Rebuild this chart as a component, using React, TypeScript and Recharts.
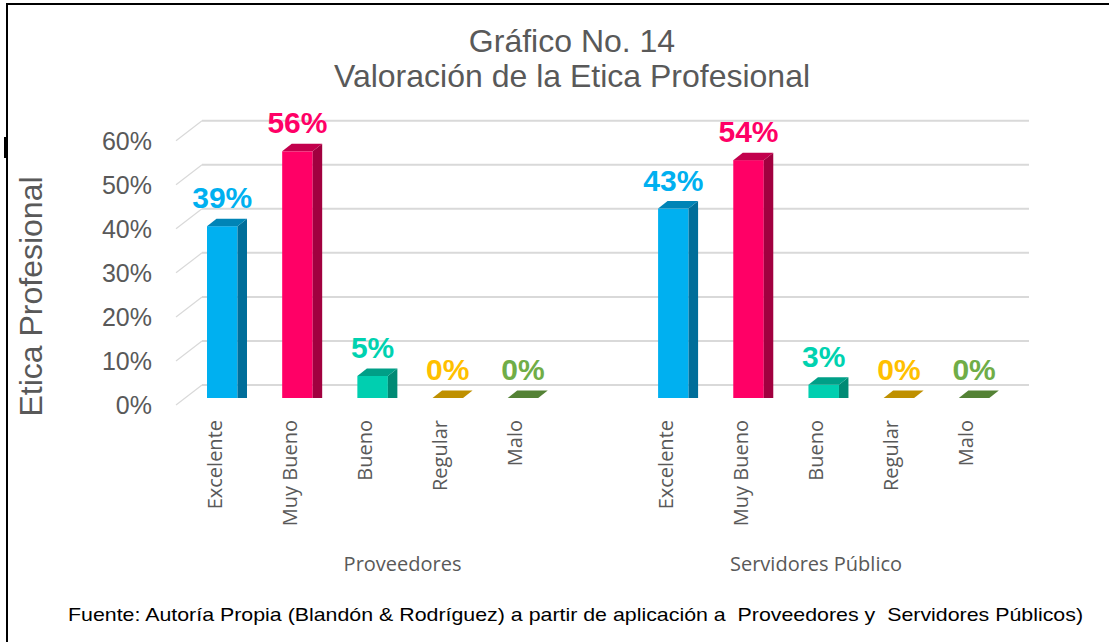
import React from 'react';
import { BarChart, Bar, XAxis, YAxis, CartesianGrid } from 'recharts';

const ratings = ['Excelente', 'Muy Bueno', 'Bueno', 'Regular', 'Malo'];
const groups = ['Proveedores', 'Servidores Público'];
const proveedores = [0.39, 0.56, 0.05, 0, 0];
const servidores = [0.43, 0.54, 0.03, 0, 0];
const yTicks = [0, 0.1, 0.2, 0.3, 0.4, 0.5, 0.6];

const frontColors = ['#00B0F0', '#FF0066', '#00CFB0', '#BF9000', '#548235'];
const sideColors = ['#006E9A', '#A1003F', '#008A74', '#8F6C00', '#3F6128'];
const topColors = ['#0084B6', '#C2004C', '#009F87', '#BF9000', '#548235'];
const labelColors = ['#00B0F0', '#FF0066', '#00D2B0', '#FFC000', '#70AD47'];

type Row = { key: string; name: string; value: number | null; ci: number };

const data: Row[] = [
  ...ratings.map((r, i) => ({ key: `p${i}`, name: r, value: proveedores[i], ci: i })),
  { key: 'gap', name: '', value: null, ci: -1 },
  ...ratings.map((r, i) => ({ key: `s${i}`, name: r, value: servidores[i], ci: i })),
];

// group spans in category slots (first group includes trailing blank slot)
const groupSpans: [number, number][] = [
  [0, ratings.length + 1],
  [ratings.length + 1, data.length],
];

const GREY = '#595959';
const DX = 9.5;
const DY = 7.5;

const renderBox = (props: any) => {
  const { x, y, width, height, payload } = props;
  if (!payload || payload.value == null || payload.ci < 0) return <g />;
  const ci = payload.ci;
  const fw = width - DX;
  const h = Math.max(0, height);
  const label = `${Math.round(payload.value * 100)}%`;
  return (
    <g>
      {h > 0 && <rect x={x} y={y} width={fw} height={h} fill={frontColors[ci]} />}
      {h > 0 && (
        <polygon
          points={`${x + fw},${y} ${x + fw + DX},${y - DY} ${x + fw + DX},${y + h} ${x + fw},${y + h}`}
          fill={sideColors[ci]}
        />
      )}
      <polygon
        points={`${x},${y} ${x + DX},${y - DY} ${x + fw + DX},${y - DY} ${x + fw},${y}`}
        fill={topColors[ci]}
      />
      <text
        x={x + fw / 2}
        y={y - 18}
        textAnchor="middle"
        fontFamily="'Liberation Sans', Arial, sans-serif"
        fontWeight="bold"
        fontSize={30}
        fill={labelColors[ci]}
      >
        {label}
      </text>
    </g>
  );
};

const renderGridLine = (props: any) => {
  const { x1, y1, x2, index } = props;
  const y = y1;
  return (
    <g key={`gl-${index}-${y}`}>
      <line x1={x1 - 13} y1={y + 7} x2={x1 + 13} y2={y - 13} stroke="#D9D9D9" strokeWidth={1.2} />
      <line x1={x1 + 13} y1={y - 13} x2={x2 + 13} y2={y - 13} stroke="#D9D9D9" strokeWidth={2} />
    </g>
  );
};

const renderYTick = (props: any) => {
  const { y, payload } = props;
  return (
    <text
      x={152}
      y={y + 7 + 9}
      textAnchor="end"
      fontFamily="'Liberation Sans', Arial, sans-serif"
      fontSize={25}
      fill={GREY}
    >
      {`${Math.round(payload.value * 100)}%`}
    </text>
  );
};

const renderCatTick = (props: any) => {
  const { x, payload } = props;
  const idx = data.findIndex((d) => d.key === payload.value);
  const row = data[idx];
  const half = typeof payload.offset === 'number' && payload.offset > 0 ? payload.offset : 37.6;
  const gi = groupSpans.findIndex(([a]) => a === idx);
  let groupLabel = null;
  if (gi >= 0) {
    const [a, b] = groupSpans[gi];
    const cx = x - half + (b - a) * half;
    groupLabel = (
      <text
        x={cx - 12}
        y={571}
        textAnchor="middle"
        fontFamily="'Open Sans', sans-serif"
        fontSize={20}
        fill={GREY}
      >
        {groups[gi]}
      </text>
    );
  }
  return (
    <g>
      {row && row.name ? (
        <text
          transform={`translate(${x - 5}, 420) rotate(-90)`}
          textAnchor="end"
          fontFamily="'Open Sans', sans-serif"
          fontSize={20}
          fill={GREY}
        >
          {row.name}
        </text>
      ) : null}
      {groupLabel}
    </g>
  );
};

export default function App() {
  return (
    <div style={{ position: 'absolute', left: 0, top: 0, width: 1109, height: 642, background: '#fff' }}>
      <BarChart
        width={1109}
        height={642}
        data={data}
        margin={{ top: 133.7, right: 93, bottom: 0, left: 0 }}
        barSize={40}
      >
        <CartesianGrid vertical={false} horizontal={renderGridLine} />
        <XAxis
          dataKey="key"
          axisLine={false}
          tickLine={false}
          interval={0}
          height={244}
          tick={renderCatTick}
        />
        <YAxis
          domain={[0, 0.6]}
          ticks={yTicks}
          width={189}
          axisLine={false}
          tickLine={false}
          interval={0}
          tick={renderYTick}
        />
        <Bar dataKey="value" isAnimationActive={false} shape={renderBox} />
      </BarChart>
      <svg
        width={1109}
        height={642}
        style={{ position: 'absolute', left: 0, top: 0, pointerEvents: 'none' }}
      >
        <line x1={7} y1={4} x2={1109} y2={4} stroke="#000" strokeWidth={2} />
        <line x1={7} y1={3} x2={7} y2={642} stroke="#000" strokeWidth={2} />
        <rect x={4} y={137} width={3} height={21} fill="#000" />
        <text x={572} y={52} textAnchor="middle" fontFamily="'Liberation Sans', Arial, sans-serif" fontSize={32} fill={GREY}>
          Gráfico No. 14
        </text>
        <text x={572} y={87} textAnchor="middle" fontFamily="'Liberation Sans', Arial, sans-serif" fontSize={32} fill={GREY}>
          Valoración de la Etica Profesional
        </text>
        <text
          transform="translate(42, 296.5) rotate(-90)"
          textAnchor="middle"
          fontFamily="'Liberation Sans', Arial, sans-serif"
          fontSize={32}
          fill={GREY}
        >
          Etica Profesional
        </text>
        <text
          x={68}
          y={621}
          fontFamily="'Liberation Sans', Arial, sans-serif"
          fontSize={19}
          fill="#000"
          textLength={1015}
          lengthAdjust="spacingAndGlyphs"
          style={{ whiteSpace: 'pre' }}
        >
          {'Fuente: Autoría Propia (Blandón & Rodríguez) a partir de aplicación a  Proveedores y  Servidores Públicos)'}
        </text>
      </svg>
    </div>
  );
}
